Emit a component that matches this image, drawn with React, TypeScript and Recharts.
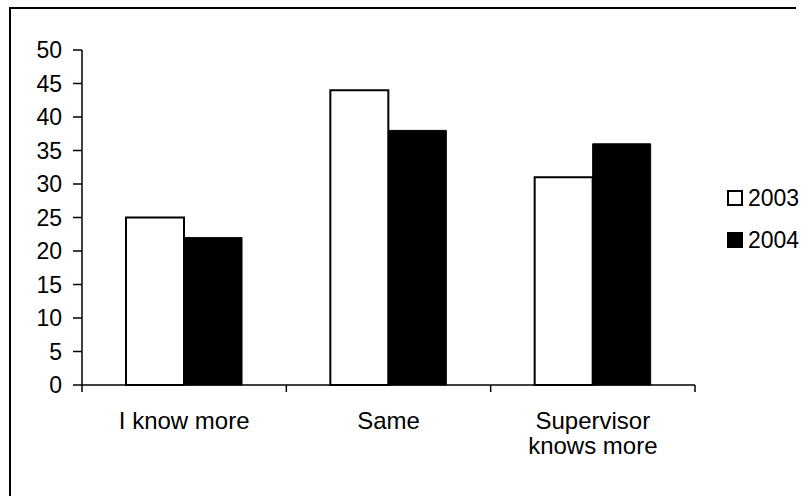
import React from 'react';
import { Bar, BarChart, XAxis, YAxis } from 'recharts';

const categories = ['I know more', 'Same', 'Supervisor knows more'];
const categoryLines = [['I know more'], ['Same'], ['Supervisor', 'knows more']];
const values2003 = [25, 44, 31];
const values2004 = [22, 38, 36];
const yTicks = [0, 5, 10, 15, 20, 25, 30, 35, 40, 45, 50];
const seriesNames = ['2003', '2004'];

const data = categories.map((name, i) => ({
  name,
  y2003: values2003[i],
  y2004: values2004[i],
}));

const FONT = '"Liberation Sans", Arial, sans-serif';
const W = 812;
const H = 496;
const AXIS_H = 111;
const AXIS_Y = H - AXIS_H;

function CatTick(props: any) {
  const { x, payload, index } = props;
  const i = payload.index ?? index ?? 0;
  const lines = categoryLines[i] ?? [payload.value];
  const half = payload.offset || 102;
  const edges = i === categories.length - 1 ? [x - half, x + half] : [x - half];
  return (
    <g>
      {edges.map((ex, k) => (
        <line key={'t' + k} x1={ex} x2={ex} y1={AXIS_Y} y2={AXIS_Y + 7} stroke="#000" strokeWidth={1.5} />
      ))}
      {lines.map((l: string, k: number) => (
        <text
          key={k}
          x={x}
          y={AXIS_Y + 44 + k * 25}
          textAnchor="middle"
          fontSize={24}
          fontFamily={FONT}
          fill="#000"
        >
          {l}
        </text>
      ))}
    </g>
  );
}

function LegendBox() {
  const fills = ['#fff', '#000'];
  return (
    <div style={{ position: 'absolute', left: 727, top: 177, fontFamily: FONT, fontSize: 23, color: '#000' }}>
      {seriesNames.map((label, i) => (
        <div key={label} style={{ display: 'flex', alignItems: 'center', height: 42 }}>
          <span
            style={{
              display: 'inline-block',
              width: 12,
              height: 12,
              border: '2px solid #000',
              background: fills[i],
              marginRight: 5,
            }}
          />
          <span>{label}</span>
        </div>
      ))}
    </div>
  );
}

export default function App() {
  return (
    <div style={{ position: 'absolute', left: 0, top: 0, width: W, height: H, background: '#fff' }}>
      <div style={{ position: 'absolute', left: 9, top: 7, width: 787, height: 2, background: '#000' }} />
      <div style={{ position: 'absolute', left: 9, top: 7, width: 2, height: 489, background: '#000' }} />
      <BarChart
        width={W}
        height={H}
        data={data}
        margin={{ top: 50, right: 117, bottom: 0, left: 0 }}
        barGap={0}
        barSize={58}
      >
        <XAxis
          dataKey="name"
          axisLine={{ stroke: '#000', strokeWidth: 1.5 }}
          tickLine={false}
          tick={<CatTick />}
          interval={0}
          height={AXIS_H}
        />
        <YAxis
          domain={[0, 50]}
          ticks={yTicks}
          interval={0}
          width={82}
          tickSize={9}
          tickMargin={11}
          axisLine={{ stroke: '#000', strokeWidth: 1.5 }}
          tickLine={{ stroke: '#000', strokeWidth: 1.5 }}
          tick={{ fontSize: 23, fontFamily: FONT, fill: '#000' }}
        />
        <Bar dataKey="y2003" name={seriesNames[0]} fill="#fff" stroke="#000" strokeWidth={2} isAnimationActive={false} />
        <Bar dataKey="y2004" name={seriesNames[1]} fill="#000" stroke="#000" strokeWidth={1} isAnimationActive={false} />
      </BarChart>
      <LegendBox />
    </div>
  );
}
